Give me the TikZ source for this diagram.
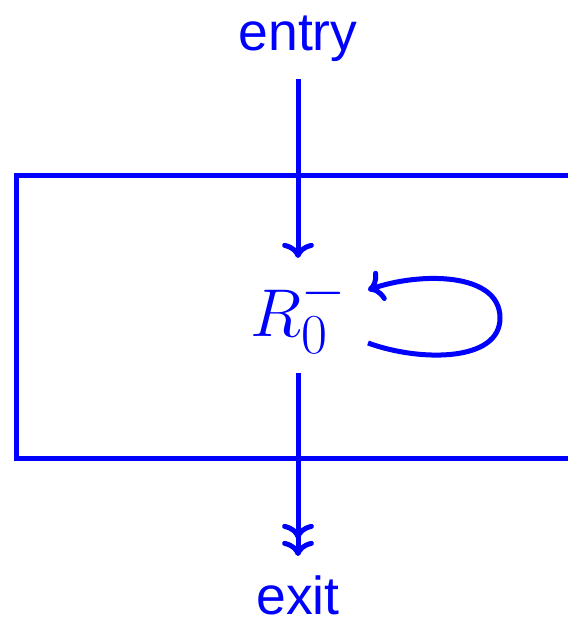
\documentclass[tikz,border=0pt]{standalone}
\usepackage{fontspec}
\setsansfont{Liberation Sans}
\usetikzlibrary{arrows.meta}
\begin{document}
\begin{tikzpicture}[x=1pt,y=-1pt,
  blueline/.style={draw=blue,line width=5pt},
  arr/.style={blueline,-{Computer Modern Rightarrow[scale=1.2]}},
  lbl/.style={text=blue,font=\fontsize{53.5}{60}\selectfont\sffamily,inner sep=0pt},
  mlbl/.style={text=blue,font=\Huge,inner sep=0pt}]
\useasboundingbox (0,0) rectangle (568,622);
\clip (0,0) rectangle (568,622);
\draw[blueline] (16,175) rectangle (620,458);
\node[lbl,anchor=base] (entry) at (298,50) {entry};
\node[mlbl,anchor=base] (R) at (299,336) {\scalebox{2.72}{$R_0^-$}};
\node[lbl,anchor=base] (exit) at (298,614) {exit};
\coordinate (t1) at (298,258);
\coordinate (s2) at (298,373);
\coordinate (t2) at (298,556);
\coordinate (lpA) at (368,343);
\coordinate (lpB) at (368,290);
\draw[arr,shorten <=18pt] (entry.south) -- (t1);
\draw[arr] (s2) -- (t2);
\draw[arr,shorten >=17pt] (s2) -- (t2);
\draw[arr] (lpA) .. controls (420,362) and (500,362) .. (500,318)
  .. controls (500,272) and (420,272) .. (lpB);
\end{tikzpicture}
\end{document}
